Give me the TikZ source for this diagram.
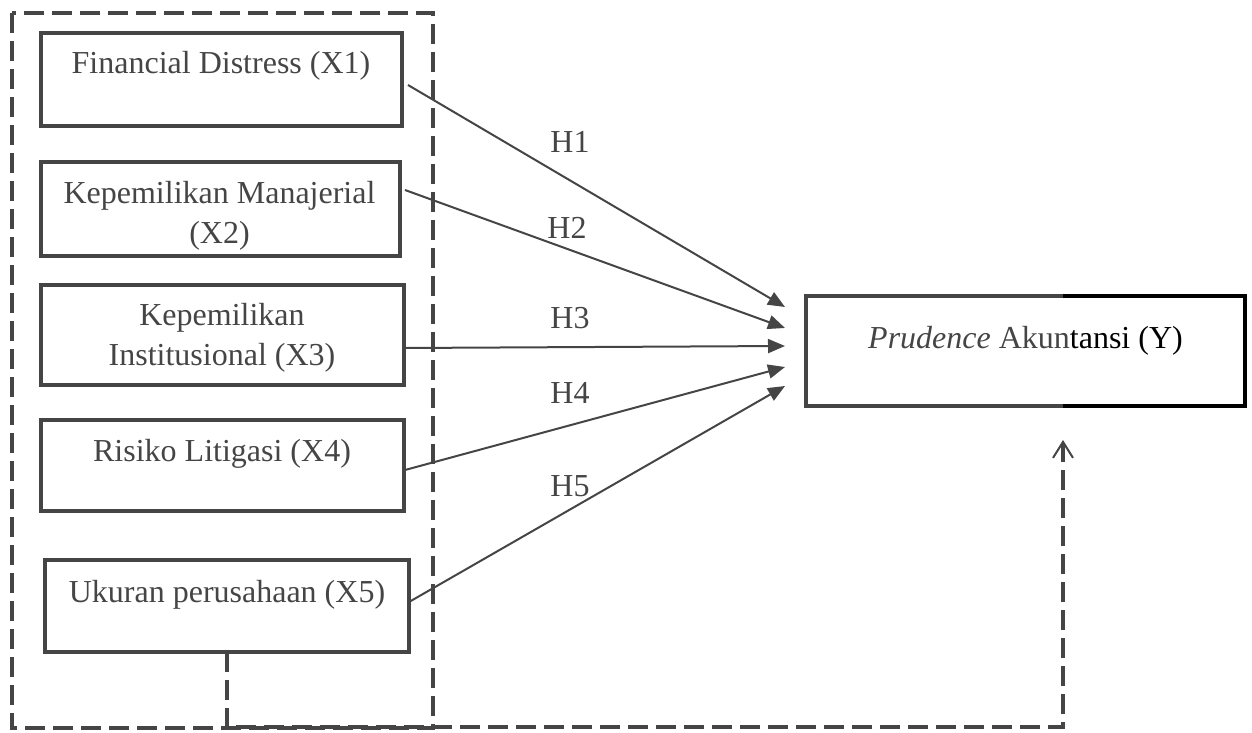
\documentclass[tikz,border=0pt]{standalone}
\usepackage{fontspec}
\setmainfont{Liberation Serif}
\usetikzlibrary{arrows.meta,calc}
\definecolor{dk}{HTML}{454545}
\tikzset{
  box/.style={draw=dk, line width=1.6pt, inner sep=0pt, outer sep=0pt},
  txt/.style={text=dk, inner sep=0pt, align=center, font=\fontsize{16}{20}\selectfont, anchor=base},
  dline/.style={draw=dk, line width=1.6pt, dash pattern=on 10pt off 4pt},
  conn/.style={draw=dk, line width=1pt, -{Triangle[length=8.5pt,width=7pt]}},
  hlab/.style={text=dk, inner sep=0pt, font=\fontsize{16}{20}\selectfont, anchor=base}
}
\begin{document}
\begin{tikzpicture}[x=0.5pt,y=-0.5pt]
\useasboundingbox (0,0) rectangle (1252,733);
% outer dashed group
\draw[dline] (12,13) rectangle (433,728);
% boxes
\node[box, minimum width=180.5pt, minimum height=46.5pt] (x1) at (221.5,79.5) {};
\node[box, minimum width=179.5pt, minimum height=47pt] (x2) at (220.5,209) {};
\node[box, minimum width=181.5pt, minimum height=50pt] (x3) at (222.5,335) {};
\node[box, minimum width=181.5pt, minimum height=45.5pt] (x4) at (222.5,465.5) {};
\node[box, minimum width=182pt, minimum height=46pt] (x5) at (227,606) {};
\node[box, minimum width=219.5pt, minimum height=55pt] (y) at (1025.5,351) {};
% black right part of Y box
\coordinate (sp) at (1063,351);
\draw[black, line width=1.6pt] (sp |- y.north) -| (y.south east) -- (sp |- y.south);
% texts
\node[txt] (t1) at (221,74) {Financial Distress (X1)};
\node[txt] (t2) at (219.5,243) {Kepemilikan Manajerial\\(X2)};
\node[txt] (t3) at (222,365) {Kepemilikan\\Institusional (X3)};
\node[txt] (t4) at (222,461) {Risiko Litigasi (X4)};
\node[txt] (t5) at (227,602) {Ukuran perusahaan (X5)};
\node[txt] (ty) at (1025.5,348) {\textit{Prudence} Akun\textcolor{black}{tansi (Y)}};
% connectors
\draw[conn] ($(x1.east)+(6,5.5)$) -- ($(y.west)+(-21,-44)$);
\draw[conn] ($(x2.east)+(5,-19)$) -- ($(y.west)+(-21,-23)$);
\draw[conn] ($(x3.east)+(0,13)$) -- ($(y.west)+(-21,-5)$);
\draw[conn] ($(x4.east)+(1,4.5)$) -- ($(y.west)+(-21,16)$);
\draw[conn] ($(x5.east)+(0,-4)$) -- ($(y.west)+(-21,35)$);
% labels
\node[hlab] (h1) at (570,153) {H1};
\node[hlab] (h2) at (567,238) {H2};
\node[hlab] (h3) at (570,328) {H3};
\node[hlab] (h4) at (570,403) {H4};
\node[hlab] (h5) at (570,496) {H5};
% feedback dashed line
\coordinate (fbb) at (1063,727);
\coordinate (fb) at (1063,440);
\draw[dline, -{Straight Barb[length=8pt,width=10pt,line width=1pt]}] (x5.south) |- (fbb) -- (fb);
\end{tikzpicture}
\end{document}
